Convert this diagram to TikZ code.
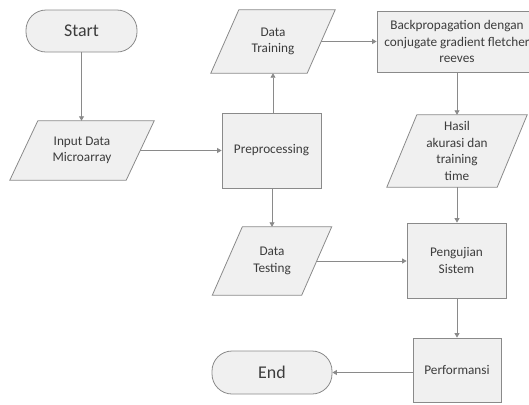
\documentclass[tikz,border=0pt]{standalone}
\usepackage{fontspec}
\setmainfont{Carlito}
\usetikzlibrary{arrows.meta,backgrounds,shapes.misc}
\definecolor{edge}{HTML}{8A8A8A}
\definecolor{boxfill}{HTML}{F0F0F0}
\definecolor{ink}{HTML}{3C3C3C}
\tikzset{
  base/.style={inner sep=2bp, align=center, text=ink, font=\fontsize{13.3}{16.5}\selectfont},
  procbox/.style={base, draw=edge, fill=boxfill, line width=0.8bp, minimum width=#1},
  termbox/.style={base, draw=edge, fill=boxfill, line width=0.8bp, rounded corners=20bp, font=\fontsize{18}{21}\selectfont},
  iobox/.style={base},
  paraframe/.style={draw=edge, fill=boxfill, line width=0.8bp},
  flow/.style={draw=edge, line width=0.8bp, -{Triangle[width=5bp,length=4.5bp]}}
}
\newcommand\drawpara[2]{%
  \path[paraframe] ([xshift=#2]#1.north west) -- ([xshift=#2]#1.north east) -- ([xshift=-#2]#1.south east) -- ([xshift=-#2]#1.south west) -- cycle;}
\begin{document}
\begin{tikzpicture}[x=1bp,y=-1bp]
\useasboundingbox (0,0) rectangle (529,404);
% terminators
\node[termbox, minimum width=111bp, minimum height=42bp] (start) at (81.5,31) {Start};
\node[termbox, minimum width=120bp, minimum height=43bp] (end) at (272,372.5) {End};
% processes
\node[procbox=99bp, minimum height=75bp] (prep) at (271.5,150.5) {Preprocessing};
\node[procbox=160bp, minimum height=61bp] (bp) at (457,41.5) {Backpropagation dengan\\conjugate gradient fletcher\\reeves};
\node[procbox=99bp, minimum height=75bp] (uji) at (456.5,260.5) {Pengujian\\Sistem};
\node[procbox=88bp, minimum height=64bp] (perf) at (457,370) {Performansi};
% input/output (parallelograms)
\node[iobox, minimum width=116bp, minimum height=59bp] (input) at (82,150.5) {Input Data\\Microarray};
\node[iobox, minimum width=96bp, minimum height=63bp] (train) at (273,41.5) {Data\\Training};
\node[iobox, minimum width=110bp, minimum height=72bp] (hasil) at (457,151) {Hasil\\akurasi dan\\training\\time};
\node[iobox, minimum width=89bp, minimum height=68bp] (test) at (272,261) {Data\\Testing};
\begin{scope}[on background layer]
\drawpara{input}{14bp}
\drawpara{train}{14bp}
\drawpara{hasil}{15bp}
\drawpara{test}{15bp}
\end{scope}
% connectors
\draw[flow] (start.south) -- (start.south |- input.north);
\draw[flow] (input.east) -- (input.east -| prep.west);
\draw[flow] (prep.north -| train.south) -- (train.south);
\draw[flow] (train.east) -- (train.east -| bp.west);
\draw[flow] (bp.south) -- (bp.south |- hasil.north);
\draw[flow] (hasil.south) -- (hasil.south |- uji.north);
\draw[flow] (prep.south -| test.north) -- (test.north);
\draw[flow] (test.east) -- (test.east -| uji.west);
\draw[flow] (uji.south -| perf.north) -- (perf.north);
\draw[flow] (perf.west |- end.east) -- (end.east);
\end{tikzpicture}
\end{document}
